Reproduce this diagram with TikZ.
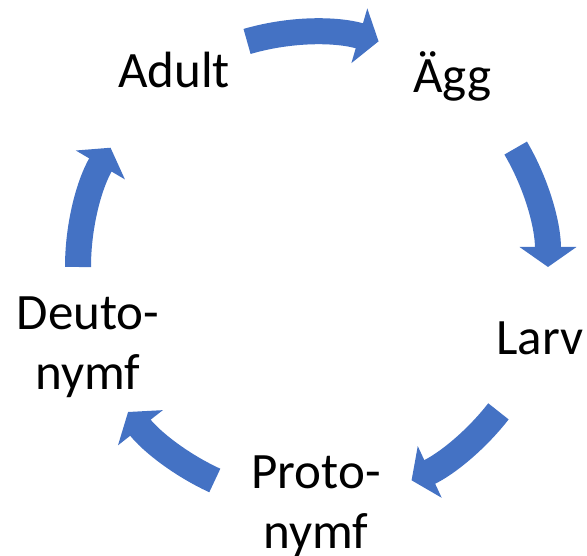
\documentclass[tikz,border=0pt]{standalone}
\usepackage{fontspec}
\setmainfont{Carlito}
\usepackage{tikz}
\usetikzlibrary{arrows.meta,calc,positioning}
\definecolor{cycleblue}{HTML}{4472C4}

\begin{document}
\begin{tikzpicture}[x=1pt,y=1pt,
  stage/.style={inner sep=0pt,anchor=base,align=center,font=\fontsize{51}{60}\selectfont},
  cyclearrow/.style={draw=cycleblue,line width=26pt,-{Triangle[length=20pt,width=56pt]}}]
\useasboundingbox (0,0) rectangle (587,556);
\coordinate (c) at (313,289);
\node[stage] (adult) at (174,468) {Adult};
\node[stage] (agg) at (452,463) {Ägg};
\node[stage] (larv) at (540,201) {Larv};
\node[stage] (proto) at (316,7) {Proto-\\nymf};
\node[stage] (deuto) at (88,166) {Deuto-\\nymf};
\draw[cyclearrow] ([shift={(106.3:235)}]c) arc[start angle=106.3,end angle=73.8,radius=235];
\draw[cyclearrow] ([shift={(30.4:235)}]c) arc[start angle=30.4,end angle=0,radius=235];
\draw[cyclearrow] ([shift={(-37.9:235)}]c) arc[start angle=-37.9,end angle=-65.2,radius=235];
\draw[cyclearrow] ([shift={(-114.7:235)}]c) arc[start angle=-114.7,end angle=-141.9,radius=235];
\draw[cyclearrow] ([shift={(180:235)}]c) arc[start angle=180,end angle=149.5,radius=235];
\end{tikzpicture}
\end{document}
